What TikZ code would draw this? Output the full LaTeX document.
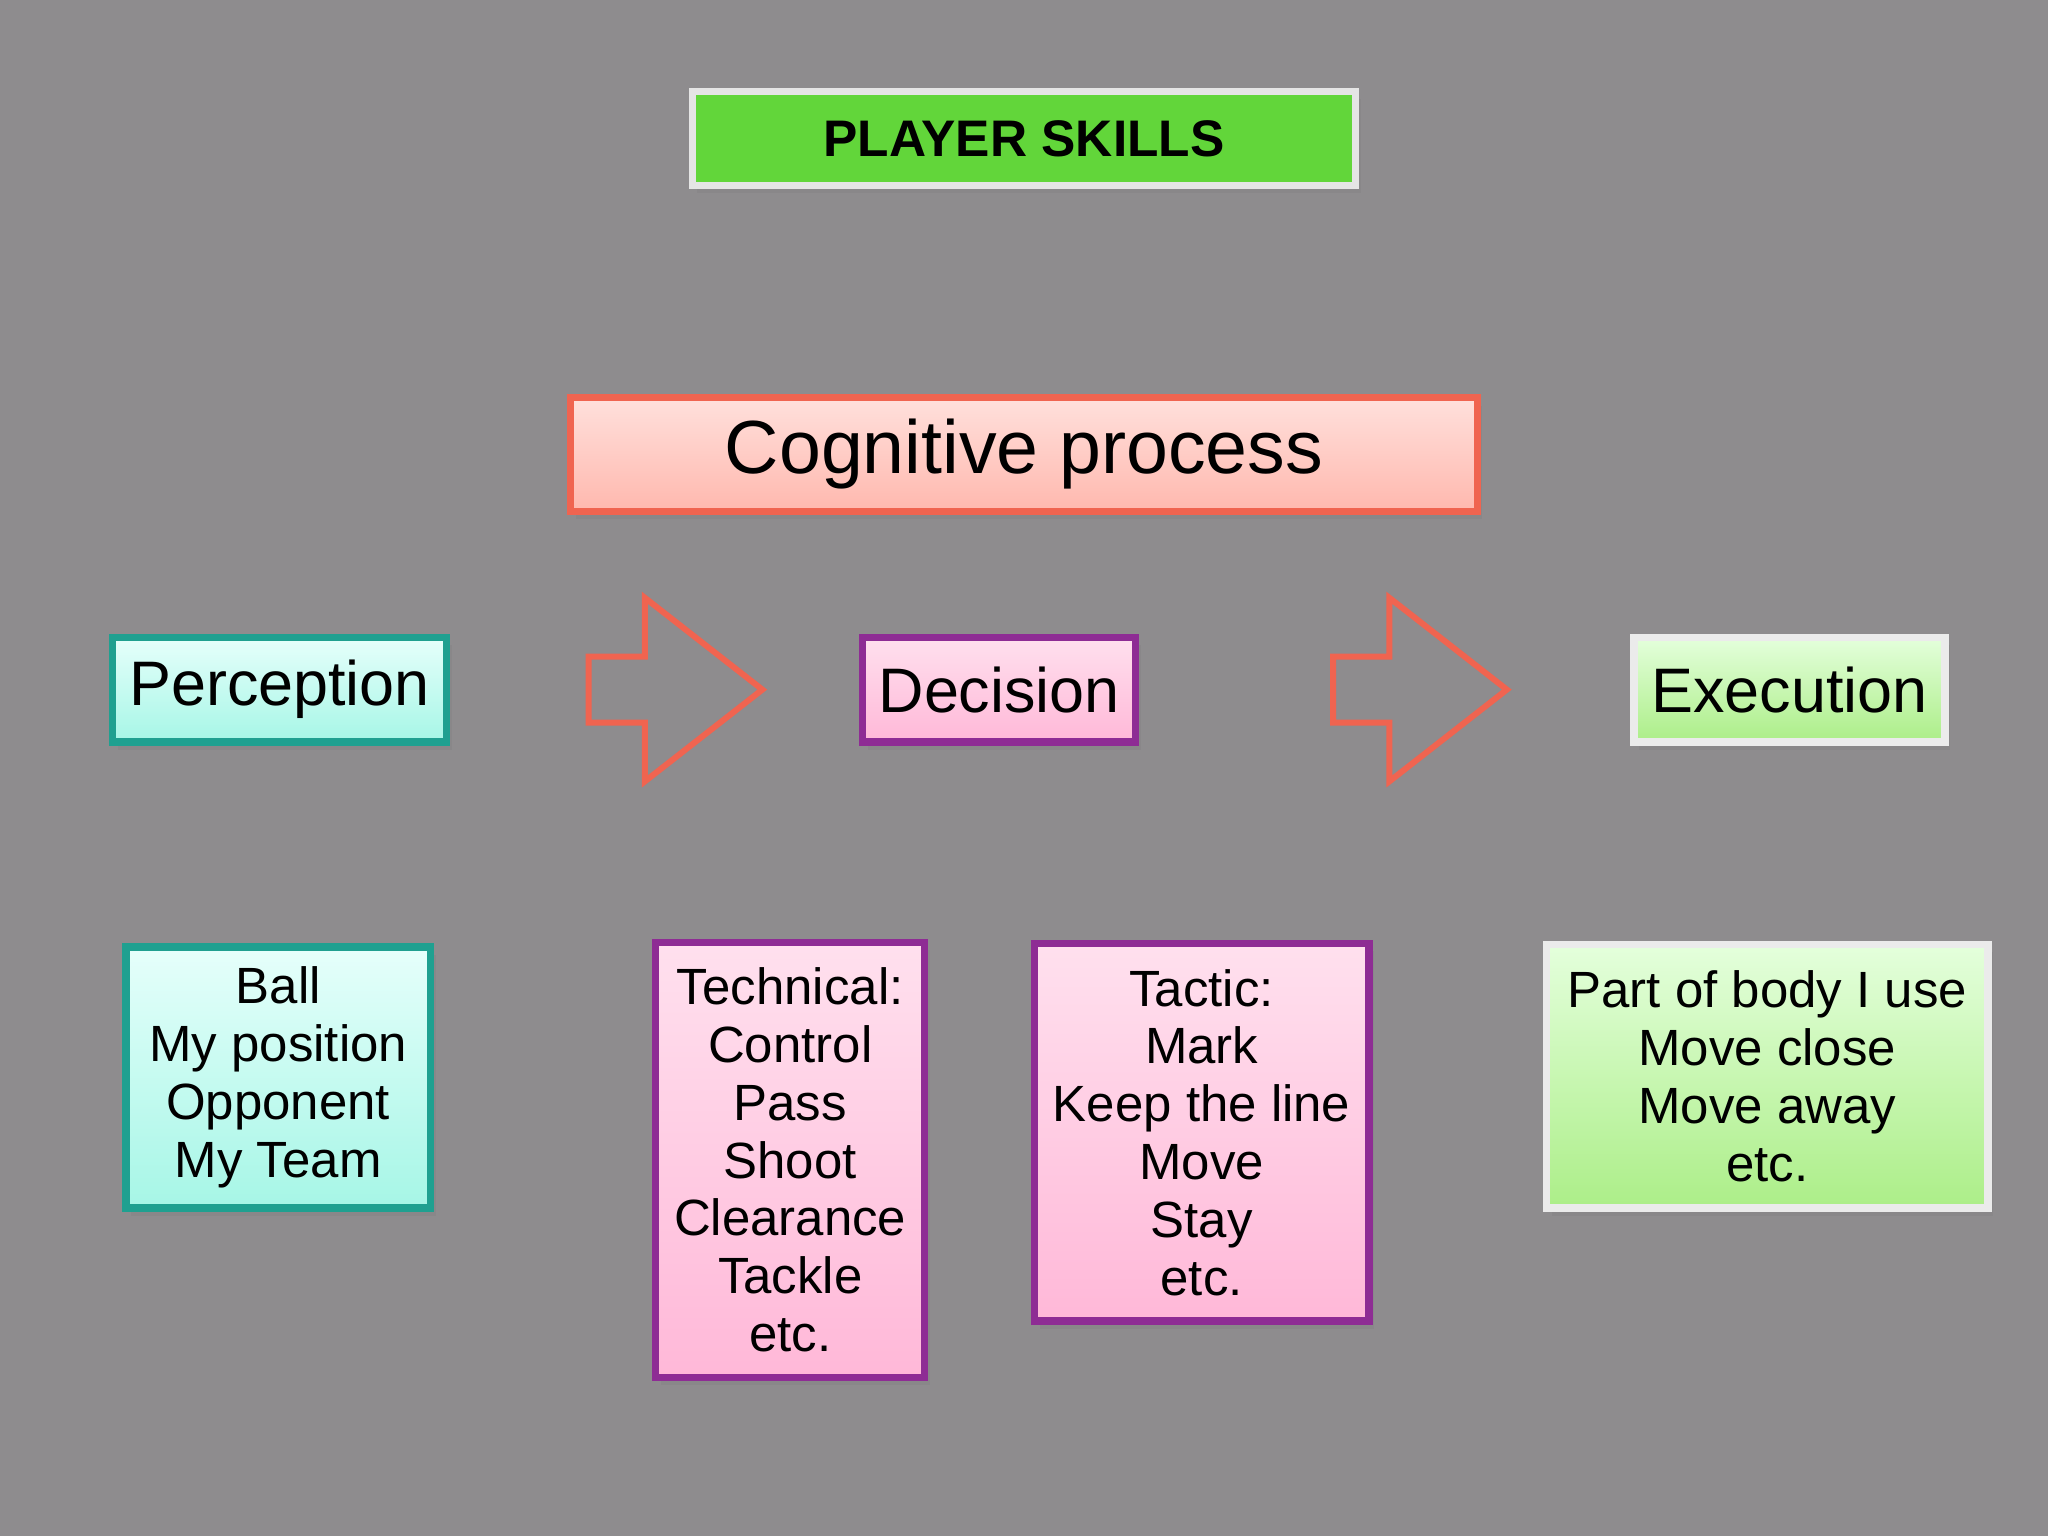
\documentclass[tikz,border=0pt]{standalone}
\usepackage{fontspec}
\setmainfont{Liberation Sans}
\usepackage{tikz}
\usetikzlibrary{shapes.arrows,shadows}
\definecolor{bg}{HTML}{8E8C8E}
\definecolor{tealb}{HTML}{1FA090}
\definecolor{tealf}{HTML}{E6FFFB}
\definecolor{tealg}{HTML}{A6F6E6}
\definecolor{purpb}{HTML}{8E2C94}
\definecolor{purpf}{HTML}{FFE0EE}
\definecolor{purpg}{HTML}{FFB8D8}
\definecolor{redb}{HTML}{F06450}
\definecolor{redf}{HTML}{FFE0DC}
\definecolor{redg}{HTML}{FFB8AE}
\definecolor{greenf}{HTML}{E4FFDC}
\definecolor{greeng}{HTML}{ACEE88}
\definecolor{titlef}{HTML}{62D63A}
\tikzstyle{card} = [draw, line width=1.6pt, align=center, inner sep=0pt, drop shadow={shadow xshift=0.4mm, shadow yshift=-0.6mm, opacity=0.35}]
\tikzstyle{perc} = [card, draw=tealb, top color=tealf, bottom color=tealg]
\tikzstyle{deci} = [card, draw=purpb, top color=purpf, bottom color=purpg]
\tikzstyle{exec} = [card, draw=white!92!black, top color=greenf, bottom color=greeng]
\tikzstyle{stage} = [minimum height=0.80cm, font=\fontsize{13.7}{16}\selectfont]
\tikzstyle{flow} = [single arrow, draw=redb, line width=1.3pt, inner sep=0.23cm, minimum height=1.33cm, single arrow head extend=0.45cm, single arrow tip angle=76]
\begin{document}
\begin{tikzpicture}[font=\fontsize{11.1}{12.6}\selectfont]
    \fill[bg] (0, 0) rectangle (15.68, 11.76);
    \node [card, draw=white!90!black, fill=titlef, minimum width=5.08cm, minimum height=0.72cm, font=\fontsize{11.2}{13}\selectfont\bfseries](title) at (7.84, 10.70) {PLAYER SKILLS};
    \node [card, draw=redb, top color=redf, bottom color=redg, minimum width=6.94cm, minimum height=0.87cm, font=\fontsize{16.4}{19}\selectfont](cog) at (7.84, 8.28) {Cognitive process};
    % stages
    \node [perc, stage, minimum width=2.56cm](perc) at (2.14, 6.48) {Perception};
    \node [deci, stage, minimum width=2.09cm](deci) at (7.65, 6.48) {Decision};
    \node [exec, stage, minimum width=2.38cm](exec) at (13.70, 6.48) {Execution};
    \node [flow](arr1) at (5.01, 6.48) {};
    \node [flow](arr2) at (10.71, 6.48) {};
    % lists
    \node [perc, minimum width=2.33cm, minimum height=2.00cm](ball) at (2.13, 3.51) {Ball\\My position\\Opponent\\My Team};
    \node [deci, minimum width=2.06cm, minimum height=3.33cm](tech) at (6.05, 2.88) {Technical:\\Control\\Pass\\Shoot\\Clearance\\Tackle\\etc.};
    \node [deci, minimum width=2.56cm, minimum height=2.89cm](tact) at (9.20, 3.09) {Tactic:\\Mark\\Keep the line\\Move\\Stay\\etc.};
    \node [exec, minimum width=3.38cm, minimum height=2.02cm](body) at (13.53, 3.52) {Part of body I use\\Move close\\Move away\\etc.};
\end{tikzpicture}
\end{document}
